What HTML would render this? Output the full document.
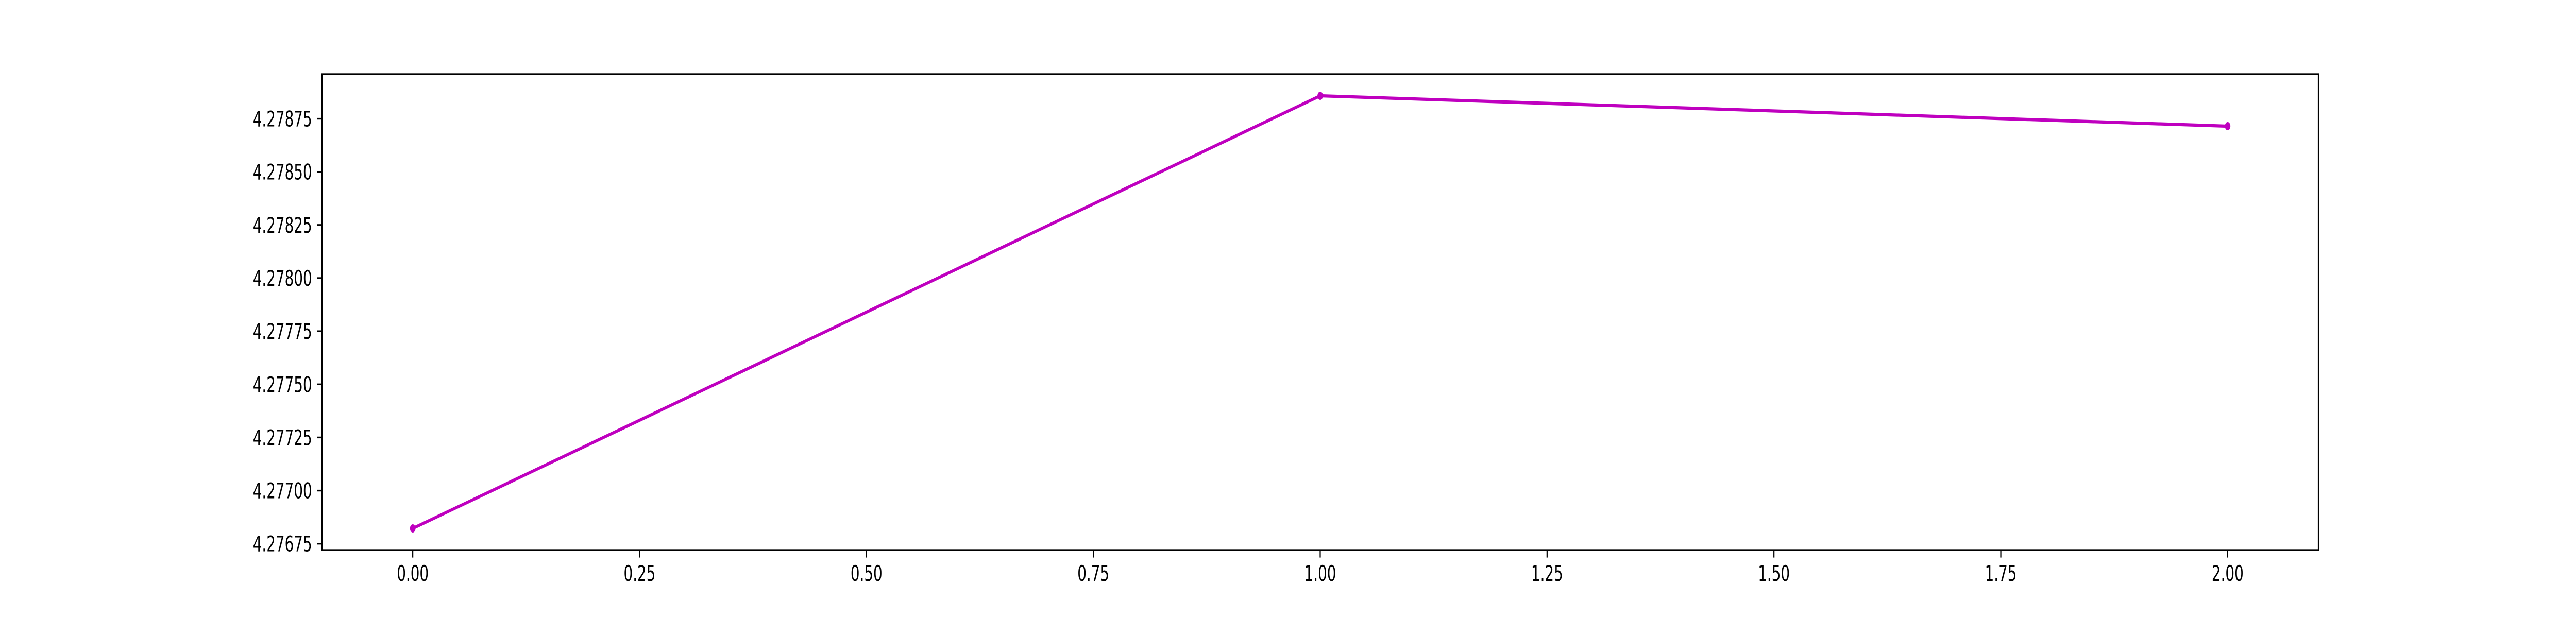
<!DOCTYPE html>
<html><head><meta charset="utf-8"><style>
html,body{margin:0;padding:0;background:#fff;width:100%;height:100%;overflow:hidden;}
svg{display:block;width:100vw;height:100vh;font-family:"DejaVu Sans","Liberation Sans",sans-serif;}
</style></head><body>
<svg id="chart" viewBox="0 0 7500 1200" preserveAspectRatio="none" xmlns="http://www.w3.org/2000/svg">
<rect x="0" y="0" width="7500" height="1200" fill="#fff"/>
<g id="ticks"></g>
<g id="series"></g>
<rect x="937.5" y="144" width="5812.5" height="924" fill="none" stroke="#000" stroke-width="3.3"/>
</svg>
<script>
const xValues = [0, 1, 2];
const yValues = [4.276822, 4.278858, 4.278715];
const xTicks = [0, 0.25, 0.5, 0.75, 1.0, 1.25, 1.5, 1.75, 2.0];
const xTickLabels = ["0.00","0.25","0.50","0.75","1.00","1.25","1.50","1.75","2.00"];
const yTicks = [4.27675, 4.277, 4.27725, 4.2775, 4.27775, 4.278, 4.27825, 4.2785, 4.27875];
const yTickLabels = ["4.27675","4.27700","4.27725","4.27750","4.27775","4.27800","4.27825","4.27850","4.27875"];

const L=937.5,R=6750,T=144,B=1068;
const xmin0=Math.min(...xValues),xmax0=Math.max(...xValues);
const ymin0=Math.min(...yValues),ymax0=Math.max(...yValues);
const xpad=(xmax0-xmin0)*0.05, ypad=(ymax0-ymin0)*0.05;
const xmin=xmin0-xpad,xmax=xmax0+xpad,ymin=ymin0-ypad,ymax=ymax0+ypad;
function sx(v){return L+(v-xmin)/(xmax-xmin)*(R-L);}
function sy(v){return B-(v-ymin)/(ymax-ymin)*(B-T);}
const NS="http://www.w3.org/2000/svg";
const tg=document.getElementById('ticks');
const sg=document.getElementById('series');
function mk(tag,attrs,parent){const e=document.createElementNS(NS,tag);for(const k in attrs)e.setAttribute(k,attrs[k]);parent.appendChild(e);return e;}

xTicks.forEach((v,i)=>{
  const x=sx(v);
  const t=mk('line',{x1:x,x2:x,y1:B,y2:B+14.6,stroke:'#000','stroke-width':3.3},tg);
  
  
  const lb=mk('text',{x:x,y:B+29+31,'text-anchor':'middle','font-size':41.7,fill:'#000'},tg);
  lb.textContent=xTickLabels[i];
  
  
});
yTicks.forEach((v,i)=>{
  const y=sy(v);
  const t=mk('line',{x1:L-14.6,x2:L,y1:y,y2:y,stroke:'#000','stroke-width':3.3},tg);
  
  
  const lb=mk('text',{x:L-29,y:y+15,'text-anchor':'end','font-size':41.7,fill:'#000'},tg);
  lb.textContent=yTickLabels[i];
  
  
});
const pts=xValues.map((x,i)=>sx(x)+','+sy(yValues[i])).join(' ');
const pl=mk('polyline',{points:pts,fill:'none',stroke:'#bf00bf','stroke-width':6.25,'stroke-linejoin':'round','stroke-linecap':'square'},sg);


xValues.forEach((x,i)=>{
  const c=mk('circle',{cx:sx(x),cy:sy(yValues[i]),r:8,fill:'#bf00bf'},sg);
  
  
});
</script>
</body></html>
